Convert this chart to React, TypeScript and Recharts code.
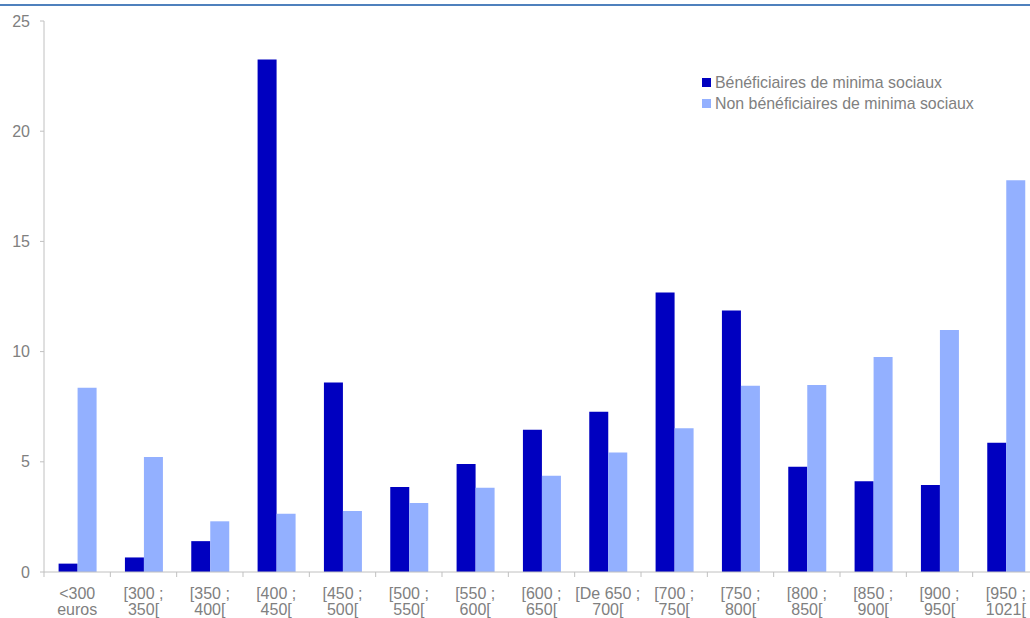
import { BarChart, Bar, XAxis, YAxis } from "recharts";

const categories = [
  "<300\neuros",
  "[300 ;\n350[",
  "[350 ;\n400[",
  "[400 ;\n450[",
  "[450 ;\n500[",
  "[500 ;\n550[",
  "[550 ;\n600[",
  "[600 ;\n650[",
  "[De 650 ;\n700[",
  "[700 ;\n750[",
  "[750 ;\n800[",
  "[800 ;\n850[",
  "[850 ;\n900[",
  "[900 ;\n950[",
  "[950 ;\n1021[",
];
const beneficiaires = [0.38, 0.66, 1.4, 23.25, 8.6, 3.86, 4.9, 6.45, 7.27, 12.68, 11.86, 4.77, 4.12, 3.95, 5.86];
const nonBeneficiaires = [8.36, 5.22, 2.3, 2.64, 2.77, 3.13, 3.82, 4.37, 5.42, 6.52, 8.45, 8.48, 9.75, 10.98, 17.78];
const yTicks = [0, 5, 10, 15, 20, 25];

const seriesNames = ["Bénéficiaires de minima sociaux", "Non bénéficiaires de minima sociaux"];
const colors = ["#0000c0", "#93b0ff"];

const data = categories.map((c, i) => ({
  name: c,
  benef: beneficiaires[i],
  nonBenef: nonBeneficiaires[i],
}));

const CHART_W = 1039;
const LEFT = 44;
const BAND = (CHART_W - LEFT) / categories.length;
const FONT = "'Liberation Sans', Arial, sans-serif";
const GREY = "#808080";

function XTick(props: any) {
  const { x, y, payload, index } = props;
  const lines = String(payload.value).split("\n");
  return (
    <g transform={`translate(${x},${y})`}>
      <line x1={-BAND / 2} x2={-BAND / 2} y1={0} y2={5} stroke="#c0c0c0" />
      {index === categories.length - 1 && (
        <line x1={BAND / 2} x2={BAND / 2} y1={0} y2={5} stroke="#c0c0c0" />
      )}
      <text textAnchor="middle" fill={GREY} fontSize={16} fontFamily={FONT}>
        {lines.map((l, i) => (
          <tspan key={i} x={0} y={27 + i * 16}>
            {l}
          </tspan>
        ))}
      </text>
    </g>
  );
}

function LegendBox() {
  return (
    <div
      style={{
        position: "absolute",
        left: 702,
        top: 72,
        fontFamily: FONT,
        fontSize: 15.9,
        color: GREY,
        lineHeight: "21px",
      }}
    >
      {seriesNames.map((n, i) => (
        <div key={n} style={{ display: "flex", alignItems: "center", whiteSpace: "nowrap" }}>
          <span style={{ width: 9, height: 9, background: colors[i], marginRight: 4, display: "inline-block" }} />
          {n}
        </div>
      ))}
    </div>
  );
}

export default function App() {
  return (
    <div style={{ position: "fixed", left: 0, top: 0, width: 1030, height: 618, overflow: "hidden", background: "#fff" }}>
      <div style={{ position: "absolute", left: 0, top: 4, width: 1030, height: 2, background: "#4f81bd" }} />
      <BarChart
        width={CHART_W}
        height={618}
        data={data}
        margin={{ top: 21, right: 0, bottom: 0, left: 0 }}
        barCategoryGap="22%"
        barGap={0}
      >
        <XAxis
          dataKey="name"
          height={46}
          interval={0}
          tickLine={false}
          tickSize={0}
          tickMargin={0}
          axisLine={{ stroke: "#c0c0c0" }}
          tick={<XTick />}
        />
        <YAxis
          width={LEFT}
          domain={[0, 25]}
          ticks={yTicks}
          interval={0}
          tickSize={4}
          tickMargin={10}
          axisLine={{ stroke: "#c0c0c0" }}
          tickLine={{ stroke: "#c0c0c0" }}
          tick={{ fill: GREY, fontSize: 16, fontFamily: FONT }}
        />
        <Bar dataKey="benef" name={seriesNames[0]} fill={colors[0]} isAnimationActive={false} />
        <Bar dataKey="nonBenef" name={seriesNames[1]} fill={colors[1]} isAnimationActive={false} />
      </BarChart>
      <LegendBox />
    </div>
  );
}
